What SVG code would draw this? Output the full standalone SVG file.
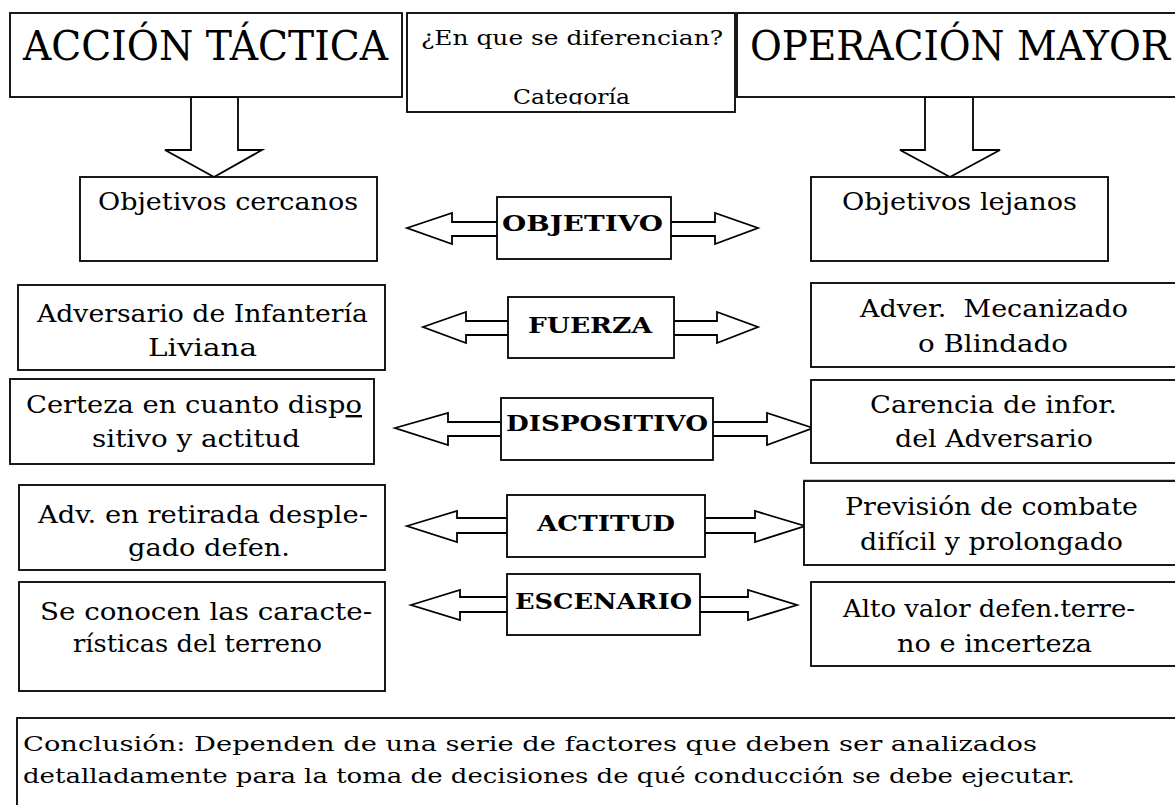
<svg xmlns="http://www.w3.org/2000/svg" width="1175" height="805" viewBox="0 0 1175 805">
<style>
.box{fill:#fff;stroke:#000;stroke-width:1.8}
.arr{fill:#fff;stroke:#000;stroke-width:1.8;stroke-linejoin:miter}
.t{font-family:"DejaVu Serif","Liberation Serif",serif;fill:#000;font-size:24px}
.title{font-size:41px}
.small{font-size:20px}
.lab{font-weight:bold;font-size:23px}
.conc{font-size:21px}
</style>
<defs>
<clipPath id="clipCat"><rect x="405" y="60" width="335" height="44.5"/></clipPath>
</defs>
<rect width="1175" height="805" fill="#fff"/>
<g id="connectors">
<polygon class="arr" points="191,97 238,97 238,150 262,150 214,177 165,150 191,150"/>
<polygon class="arr" points="925,97 973,97 973,150 1000,150 950,177 900,150 925,150"/>
</g>
<g id="accion-tactica">
<rect class="box" x="10" y="13" width="392" height="84"/>
<text class="t title" x="23" y="60" textLength="365" lengthAdjust="spacingAndGlyphs">ACCIÓN TÁCTICA</text>
</g>
<g id="operacion-mayor">
<rect class="box" x="737" y="13" width="450" height="84"/>
<text class="t title" x="750" y="60" textLength="420" lengthAdjust="spacingAndGlyphs">OPERACIÓN MAYOR</text>
</g>
<g id="diferencian">
<rect class="box" x="407" y="13" width="328" height="99"/>
<text class="t small" x="421" y="45" textLength="302" lengthAdjust="spacingAndGlyphs">¿En que se diferencian?</text>
<text class="t small" x="513" y="104" textLength="117" lengthAdjust="spacingAndGlyphs" clip-path="url(#clipCat)">Categoría</text>
</g>
<g id="obj-cercanos">
<rect class="box" x="80" y="177" width="297" height="84"/>
<text class="t" x="98" y="210" textLength="260" lengthAdjust="spacingAndGlyphs">Objetivos cercanos</text>
</g>
<g id="obj-lejanos">
<rect class="box" x="811" y="177" width="297" height="84"/>
<text class="t" x="842" y="210" textLength="235" lengthAdjust="spacingAndGlyphs">Objetivos lejanos</text>
</g>
<g id="objetivo">
<polygon class="arr" points="407,228 452,213 452,222 715,222 715,213 758,228 715,244 715,236 452,236 452,244"/>
<rect class="box" x="497" y="197" width="174" height="62"/>
<text class="t lab" x="502" y="231" textLength="161" lengthAdjust="spacingAndGlyphs">OBJETIVO</text>
</g>
<g id="adv-infanteria">
<rect class="box" x="18" y="285" width="367" height="85"/>
<text class="t" x="37" y="322" textLength="331" lengthAdjust="spacingAndGlyphs">Adversario de Infantería</text>
<text class="t" x="148" y="356" textLength="109" lengthAdjust="spacingAndGlyphs">Liviana</text>
</g>
<g id="fuerza">
<polygon class="arr" points="423,327 466,312 466,321 717,321 717,312 758,327 717,343 717,335 466,335 466,343"/>
<rect class="box" x="508" y="297" width="166" height="61"/>
<text class="t lab" x="528" y="333" textLength="124" lengthAdjust="spacingAndGlyphs">FUERZA</text>
</g>
<g id="adv-mecanizado">
<rect class="box" x="811" y="283" width="380" height="84"/>
<text class="t" x="860" y="317" textLength="268" lengthAdjust="spacingAndGlyphs" xml:space="preserve">Adver.  Mecanizado</text>
<text class="t" x="918" y="352" textLength="150" lengthAdjust="spacingAndGlyphs">o Blindado</text>
</g>
<g id="certeza">
<rect class="box" x="10" y="379" width="364" height="85"/>
<text class="t" x="26" y="413" textLength="336" lengthAdjust="spacingAndGlyphs">Certeza en cuanto disp<tspan text-decoration="underline">o</tspan></text>
<text class="t" x="92" y="447" textLength="208" lengthAdjust="spacingAndGlyphs">sitivo y actitud</text>
</g>
<g id="dispositivo">
<polygon class="arr" points="395,428 448,413 448,422 767,422 767,413 813,428 767,445 767,436 448,436 448,445"/>
<rect class="box" x="501" y="398" width="212" height="62"/>
<text class="t lab" x="506" y="431" textLength="202" lengthAdjust="spacingAndGlyphs">DISPOSITIVO</text>
</g>
<g id="carencia">
<rect class="box" x="811" y="380" width="380" height="83"/>
<text class="t" x="870" y="413" textLength="247" lengthAdjust="spacingAndGlyphs">Carencia de infor.</text>
<text class="t" x="895" y="447" textLength="198" lengthAdjust="spacingAndGlyphs">del Adversario</text>
</g>
<line x1="803" y1="479.5" x2="1175" y2="479.5" stroke="#c8c8c8" stroke-width="1"/>
<g id="adv-retirada">
<rect class="box" x="19" y="485" width="366" height="85"/>
<text class="t" x="38" y="523" textLength="330" lengthAdjust="spacingAndGlyphs">Adv. en retirada desple-</text>
<text class="t" x="128" y="556" textLength="162" lengthAdjust="spacingAndGlyphs">gado defen.</text>
</g>
<g id="actitud">
<polygon class="arr" points="407,526 457,511 457,518 755,518 755,511 805,526 755,542 755,533 457,533 457,542"/>
<rect class="box" x="507" y="495" width="198" height="62"/>
<text class="t lab" x="537" y="531" textLength="138" lengthAdjust="spacingAndGlyphs">ACTITUD</text>
</g>
<g id="prevision">
<rect class="box" x="804" y="481" width="390" height="84"/>
<text class="t" x="845" y="515" textLength="293" lengthAdjust="spacingAndGlyphs">Previsión de combate</text>
<text class="t" x="860" y="550" textLength="263" lengthAdjust="spacingAndGlyphs">difícil y prolongado</text>
</g>
<g id="se-conocen">
<rect class="box" x="19" y="582" width="366" height="109"/>
<text class="t" x="40" y="620" textLength="332" lengthAdjust="spacingAndGlyphs">Se conocen las caracte-</text>
<text class="t" x="73" y="652" textLength="249" lengthAdjust="spacingAndGlyphs">rísticas del terreno</text>
</g>
<g id="escenario">
<polygon class="arr" points="411,605 460,590 460,597 748,597 748,590 797,605 748,620 748,612 460,612 460,620"/>
<rect class="box" x="507" y="574" width="193" height="61"/>
<text class="t lab" x="515" y="609" textLength="177" lengthAdjust="spacingAndGlyphs">ESCENARIO</text>
</g>
<g id="alto-valor">
<rect class="box" x="811" y="582" width="380" height="84"/>
<text class="t" x="843" y="617" textLength="292" lengthAdjust="spacingAndGlyphs">Alto valor defen.terre-</text>
<text class="t" x="897" y="652" textLength="195" lengthAdjust="spacingAndGlyphs">no e incerteza</text>
</g>
<g id="conclusion">
<rect class="box" x="17" y="718" width="1180" height="100"/>
<text class="t conc" x="23" y="751" textLength="1014" lengthAdjust="spacingAndGlyphs">Conclusión: Dependen de una serie de factores que deben ser analizados</text>
<text class="t conc" x="23" y="783" textLength="1052" lengthAdjust="spacingAndGlyphs">detalladamente para la toma de decisiones de qué conducción se debe ejecutar.</text>
</g>
</svg>
